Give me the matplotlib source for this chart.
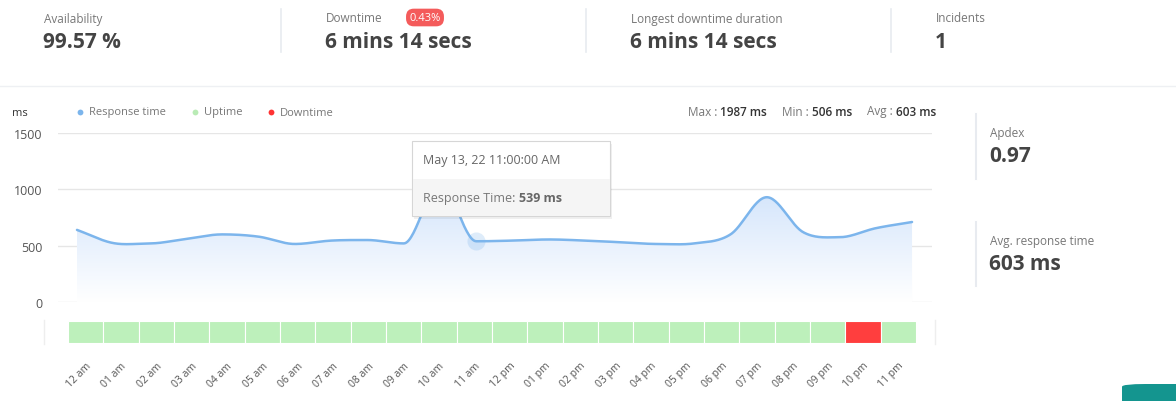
import numpy as np
import matplotlib
matplotlib.use("Agg")
import matplotlib.pyplot as plt
from matplotlib.patches import FancyBboxPatch, Rectangle
from matplotlib.lines import Line2D
from matplotlib.colors import LinearSegmentedColormap
from matplotlib.path import Path

plt.rcParams['font.family'] = ['Open Sans', 'DejaVu Sans']

# ---------------- data ----------------
hours = ["12 am", "01 am", "02 am", "03 am", "04 am", "05 am", "06 am", "07 am",
         "08 am", "09 am", "10 am", "11 am", "12 pm", "01 pm", "02 pm", "03 pm",
         "04 pm", "05 pm", "06 pm", "07 pm", "08 pm", "09 pm", "10 pm", "11 pm"]
response_ms = [640, 523, 520, 560, 600, 580, 515, 545, 550, 520, 1050, 539,
               545, 555, 545, 530, 515, 520, 600, 930, 620, 575, 655, 710]
status = ["up"] * 22 + ["down"] + ["up"]
y_ticks = [0, 500, 1000, 1500]

stats_labels = ["Availability", "Downtime", "Longest downtime duration", "Incidents"]
stats_values = ["99.57 %", "6 mins 14 secs", "6 mins 14 secs", "1"]
downtime_badge = "0.43%"
side_labels = ["Apdex", "Avg. response time"]
side_values = ["0.97", "603 ms"]
summary = [("Max", "1987 ms"), ("Min", "506 ms"), ("Avg", "603 ms")]
tooltip_title = "May 13, 22 11:00:00 AM"
tooltip_idx = 11

W, H = 1176, 402
fig = plt.figure(figsize=(W / 100, H / 100), dpi=100)
fig.patch.set_facecolor("white")


def fx(x):
    return x / W


def fy(y):
    return 1 - y / H


LBL = "#777777"
VAL = "#444444"

# ---------------- top stats ----------------
stat_x = [44, 326, 631, 936]
for x, lab, val in zip(stat_x, stats_labels, stats_values):
    fig.text(fx(x), fy(19), lab, fontsize=8.5, color=LBL, va="center", ha="left")
    fig.text(fx(x - 1), fy(42), val, fontsize=15, color=VAL, va="center",
             ha="left", fontweight="bold")
for x in [281, 586, 891]:
    fig.add_artist(Line2D([fx(x), fx(x)], [fy(10), fy(53)], color="#e8ebf0", lw=1.2))
fig.add_artist(Line2D([0, 1], [fy(87), fy(87)], color="#eef0f3", lw=1))
# badge
fig.text(fx(425), fy(18.5), downtime_badge, fontsize=8, color="white",
         va="center", ha="center",
         bbox=dict(boxstyle="round,pad=0.3,rounding_size=0.7", fc="#f45b5b", ec="none"))

# ---------------- legend / header ----------------
fig.text(fx(12), fy(113), "ms", fontsize=8, color="#333333", va="center")
for x, lab, c in [(80, "Response time", "#7cb5ec"), (195, "Uptime", "#b9ebb5"),
                  (271, "Downtime", "#ff3333")]:
    fig.add_artist(Line2D([fx(x)], [fy(113)], marker="o", ms=4.2, color=c, mec="none"))
    fig.text(fx(x + 9), fy(113), lab, fontsize=8, color="#777777", va="center")

# summary right aligned
xr = 936
for name, v in reversed(summary):
    t2 = fig.text(fx(xr), fy(112), v, fontsize=8.5, color="#333333",
                  fontweight="semibold", va="center", ha="right")
    fig.canvas.draw()
    xr2 = t2.get_window_extent().x0
    t1 = fig.text(xr2 / W, fy(112), name + " : ", fontsize=8.5, color="#777777",
                  va="center", ha="right")
    fig.canvas.draw()
    xr = t1.get_window_extent().x0 - 15

# ---------------- main chart ----------------
ax = fig.add_axes([fx(58), fy(303), fx(932 - 58), (303 - 134) / H])
ax.set_xlim(-0.523, 23.55)
ax.set_ylim(0, 1500)
for s in ax.spines.values():
    s.set_visible(False)
ax.set_xticks([])
ax.set_yticks(y_ticks)
ax.set_yticklabels([str(v) for v in y_ticks], fontsize=9, color="#555555")
ax.tick_params(axis="y", length=0, pad=11)
for v in y_ticks:
    ax.axhline(v, color="#e6e6e6", lw=1, zorder=0)

# smooth rendering of the hourly points (cubic Hermite)
xs = np.arange(len(response_ms), dtype=float)
ys = np.array(response_ms, dtype=float)
n = len(xs)
m = np.zeros(n)
for i in range(n):
    if 0 < i < n - 1:
        d1 = ys[i] - ys[i - 1]
        d2 = ys[i + 1] - ys[i]
        m[i] = 0.0 if d1 * d2 <= 0 else (d1 + d2) / 2
    elif i == 0:
        m[i] = ys[1] - ys[0]
    else:
        m[i] = ys[-1] - ys[-2]
sx, sy = [], []
for i in range(n - 1):
    t = np.linspace(0, 1, 30, endpoint=False)
    h00 = 2 * t**3 - 3 * t**2 + 1
    h10 = t**3 - 2 * t**2 + t
    h01 = -2 * t**3 + 3 * t**2
    h11 = t**3 - t**2
    sx.extend(xs[i] + t)
    sy.extend(h00 * ys[i] + h10 * m[i] + h01 * ys[i + 1] + h11 * m[i + 1])
sx.append(xs[-1])
sy.append(ys[-1])
sx = np.array(sx)
sy = np.array(sy)

grad = np.linspace(1, 0, 256).reshape(-1, 1)
cmap = LinearSegmentedColormap.from_list("g", ["#ffffff", "#cfe2fb"])
im = ax.imshow(grad, extent=[sx[0], sx[-1], 0, 1100], aspect="auto",
               cmap=cmap, origin="upper", zorder=1, vmin=0, vmax=1)
verts = np.vstack([np.column_stack([sx, sy]), [[sx[-1], 0], [sx[0], 0]]])
clip = matplotlib.patches.PathPatch(Path(verts), transform=ax.transData,
                                    fc="none", ec="none")
ax.add_patch(clip)
im.set_clip_path(clip)
ax.plot(sx, sy, color="#7cb5ec", lw=1.8, zorder=3, solid_capstyle="round")
ax.plot([xs[tooltip_idx]], [ys[tooltip_idx]], "o", ms=13, color="#7cb5ec",
        alpha=0.25, mec="none", zorder=4)

# tooltip
tx0, ty0, tx1, ty1 = 412, 142, 610, 217
fig.add_artist(Rectangle((fx(tx0 + 2), fy(ty1 + 3)), fx(tx1 - tx0), (ty1 - ty0) / H,
                         transform=fig.transFigure, fc="#000000", alpha=0.06, ec="none",
                         zorder=10))
fig.add_artist(Rectangle((fx(tx0), fy(ty1)), fx(tx1 - tx0), (ty1 - ty0) / H,
                         transform=fig.transFigure, fc="white", ec="#d6d6d6", lw=0.8,
                         zorder=11))
fig.add_artist(Rectangle((fx(tx0 + 0.5), fy(ty1 - 0.5)), fx(tx1 - tx0 - 1), (ty1 - 180) / H,
                         transform=fig.transFigure, fc="#f5f5f5", ec="none", zorder=12))
fig.text(fx(423), fy(161), tooltip_title, fontsize=9, color="#666666", va="center",
         zorder=13)
tt = fig.text(fx(423), fy(199), "Response Time: ", fontsize=9, color="#777777",
              va="center", zorder=13)
fig.canvas.draw()
xb = tt.get_window_extent().x1
fig.text(xb / W, fy(199), f"{response_ms[tooltip_idx]} ms", fontsize=9,
         color="#666666", fontweight="bold", va="center", zorder=13)

# ---------------- status strip ----------------
ax2 = fig.add_axes([fx(68), fy(344), fx(916 - 68), (344 - 322) / H])
ax2.set_xlim(0, len(status))
ax2.set_ylim(0, 1)
colors = ["#bdf0bb" if s == "up" else "#ff3e3e" for s in status]
ax2.bar(np.arange(len(status)) + 0.5, [1] * len(status), width=1.0, color=colors,
        edgecolor="white", linewidth=0.8)
for s in ax2.spines.values():
    s.set_visible(False)
ax2.set_yticks([])
ax2.set_xticks(np.arange(len(status)) + 0.5)
ax2.set_xticklabels(hours, rotation=45, ha="right", va="top",
                    rotation_mode="anchor", fontsize=7.5, color="#555555")
ax2.tick_params(axis="x", length=0, pad=12)
for x in [44, 935]:
    fig.add_artist(Line2D([fx(x), fx(x)], [fy(321), fy(345)], color="#eeeeee", lw=1))

# ---------------- side panel ----------------
for (y0, y1, lab, val) in [(115, 180, side_labels[0], side_values[0]),
                           (223, 287, side_labels[1], side_values[1])]:
    fig.add_artist(Line2D([fx(976), fx(976)], [fy(y0), fy(y1)], color="#e8ebf0", lw=1.5))
    fig.text(fx(990), fy(y0 + 19), lab, fontsize=8.5, color=LBL, va="center")
    fig.text(fx(989), fy(y0 + 42), val, fontsize=15, color=VAL, va="center",
             fontweight="bold")

# teal corner element
fig.add_artist(FancyBboxPatch((fx(1122), fy(410)), fx(80), 25 / H,
                              boxstyle="round,pad=0,rounding_size=0.02",
                              transform=fig.transFigure, fc="#14958f", ec="none",
                              mutation_aspect=H / W))

fig.savefig("out.png", dpi=100, facecolor="white")
